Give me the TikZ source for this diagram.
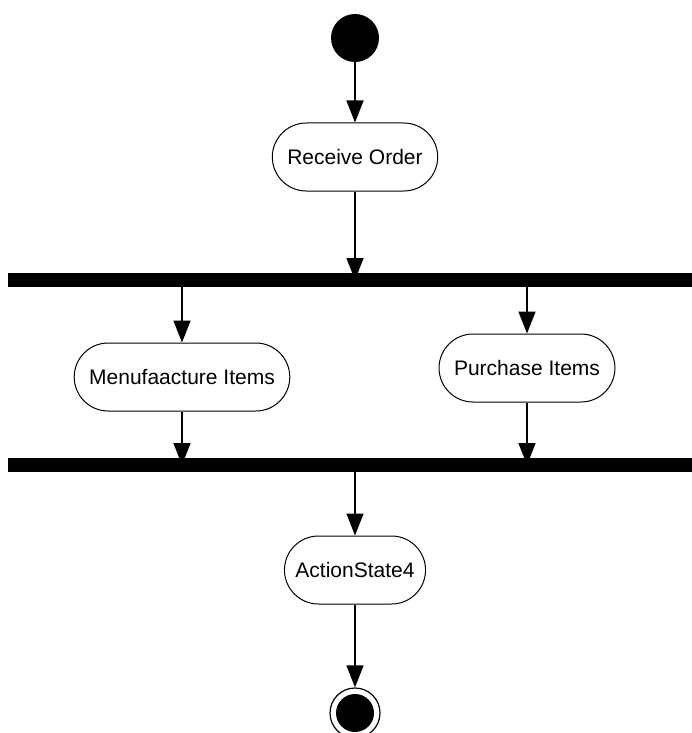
\documentclass[tikz,border=0pt]{standalone}
\usepackage{fontspec}
\setmainfont{Liberation Sans}
\usetikzlibrary{arrows.meta}
\tikzset{
  action/.style={draw, line width=1pt, rounded corners=34pt, minimum height=68pt,
    inner xsep=15pt, font=\fontsize{21}{25}\selectfont},
  bar/.style={fill=black, inner sep=0pt, minimum height=14pt, minimum width=684pt},
  flow/.style={line width=1.5pt, -{Triangle[length=22pt,width=17pt]}}
}

\begin{document}
\begin{tikzpicture}[x=1pt,y=1pt]
  \useasboundingbox (0,0) rectangle (692,-733);
  % initial state
  \node[circle, fill=black, minimum size=48pt, inner sep=0pt] (start) at (355,-38) {};
  % actions and sync bars
  \node[action] (recv) at (355,-157) {Receive Order};
  \node[bar] (fork) at (350,-280) {};
  \node[action] (manu) at (182,-377) {Menufaacture Items};
  \node[action] (buy) at (527,-368) {Purchase Items};
  \node[bar] (join) at (350,-465) {};
  \node[action, inner xsep=11pt] (act4) at (355,-570) {ActionState4};
  % final state
  \node[circle, draw, line width=1.2pt, minimum size=50pt, inner sep=0pt] (end) at (355,-713) {};
  \fill (end.center) circle (19pt);
  % transitions
  \draw[flow] (start) -- (recv);
  \draw[flow] (recv.south) -- (recv.south |- fork.center);
  \foreach \n in {manu, buy} {
    \draw[flow] (\n.north |- fork.south) -- (\n.north); % out of fork
    \draw[flow] (\n.south) -- (\n.south |- join.center); % into join
  }
  \draw[flow] (act4.north |- join.south) -- (act4.north);
  \draw[flow] (act4) -- (end);
\end{tikzpicture}
\end{document}
